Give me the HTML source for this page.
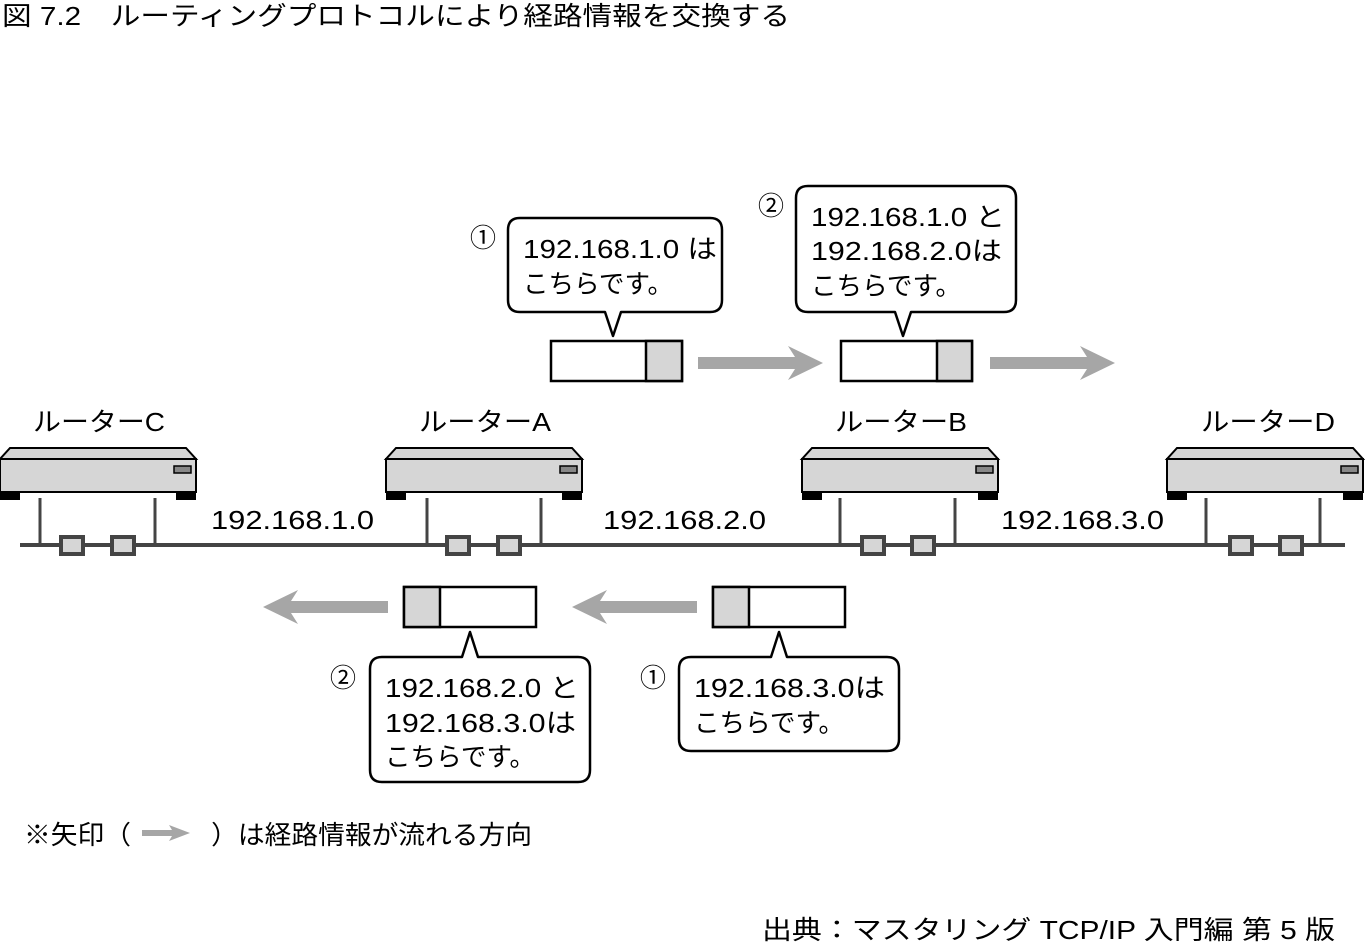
<!DOCTYPE html>
<html><head><meta charset="utf-8"><style>
body{margin:0;background:#fff;}
svg{display:block;}
text{font-family:"Liberation Sans","Noto Sans CJK JP",sans-serif;fill:#000;}
</style></head><body>
<svg width="1365" height="944" viewBox="0 0 1365 944" xmlns="http://www.w3.org/2000/svg">
<defs>
<g id="router">
  <polygon points="10,448 186,448 196,459 0,459" fill="#d6d6d6" stroke="#000" stroke-width="2"/>
  <rect x="0" y="459" width="196" height="33" fill="#d6d6d6" stroke="#000" stroke-width="2"/>
  <rect x="0" y="492" width="20" height="8" fill="#000"/>
  <rect x="176" y="492" width="20" height="8" fill="#000"/>
  <rect x="174" y="466" width="17" height="7" fill="#888" stroke="#000" stroke-width="1.5"/>
</g>
<g id="port"><rect x="0" y="0" width="22" height="17" fill="#d6d6d6" stroke="#444" stroke-width="4"/></g>
</defs>

<text x="2" y="25" font-size="26" textLength="788" lengthAdjust="spacingAndGlyphs">図 7.2　ルーティングプロトコルにより経路情報を交換する</text>

<rect x="20" y="543" width="1325" height="4" fill="#444"/>

<g stroke="#444" stroke-width="3">
<line x1="40" y1="498" x2="40" y2="545"/><line x1="155" y1="498" x2="155" y2="545"/>
<line x1="427" y1="498" x2="427" y2="545"/><line x1="541" y1="498" x2="541" y2="545"/>
<line x1="840" y1="498" x2="840" y2="545"/><line x1="955" y1="498" x2="955" y2="545"/>
<line x1="1206" y1="498" x2="1206" y2="545"/><line x1="1320" y1="498" x2="1320" y2="545"/>
</g>

<use href="#router" x="0"/>
<use href="#router" x="386"/>
<use href="#router" x="802"/>
<use href="#router" x="1167"/>

<use href="#port" x="61" y="537"/><use href="#port" x="112" y="537"/>
<use href="#port" x="447" y="537"/><use href="#port" x="498" y="537"/>
<use href="#port" x="862" y="537"/><use href="#port" x="912" y="537"/>
<use href="#port" x="1230" y="537"/><use href="#port" x="1280" y="537"/>

<g font-size="26" lengthAdjust="spacingAndGlyphs">
<text x="33" y="431" textLength="132" lengthAdjust="spacingAndGlyphs">ルーターC</text>
<text x="419" y="431" textLength="132" lengthAdjust="spacingAndGlyphs">ルーターA</text>
<text x="835" y="431" textLength="132" lengthAdjust="spacingAndGlyphs">ルーターB</text>
<text x="1201" y="431" textLength="134" lengthAdjust="spacingAndGlyphs">ルーターD</text>
<text x="211" y="529" textLength="163" lengthAdjust="spacingAndGlyphs">192.168.1.0</text>
<text x="603" y="529" textLength="163" lengthAdjust="spacingAndGlyphs">192.168.2.0</text>
<text x="1001" y="529" textLength="163" lengthAdjust="spacingAndGlyphs">192.168.3.0</text>
</g>

<rect x="551" y="341" width="131" height="40" fill="#fff" stroke="#000" stroke-width="2.5"/>
<rect x="646" y="341" width="36" height="40" fill="#d6d6d6" stroke="#000" stroke-width="2.5"/>
<rect x="841" y="341" width="131" height="40" fill="#fff" stroke="#000" stroke-width="2.5"/>
<rect x="937" y="341" width="35" height="40" fill="#d6d6d6" stroke="#000" stroke-width="2.5"/>
<rect x="404" y="587" width="132" height="40" fill="#fff" stroke="#000" stroke-width="2.5"/>
<rect x="404" y="587" width="36" height="40" fill="#d6d6d6" stroke="#000" stroke-width="2.5"/>
<rect x="713" y="587" width="132" height="40" fill="#fff" stroke="#000" stroke-width="2.5"/>
<rect x="713" y="587" width="36" height="40" fill="#d6d6d6" stroke="#000" stroke-width="2.5"/>

<g fill="#a6a6a6">
<polygon points="698,357 795,357 788,346 823,363 788,380 795,369 698,369"/>
<polygon points="990,357 1087,357 1080,346 1115,363 1080,380 1087,369 990,369"/>
<polygon points="388,601 291,601 298,590 263,607 298,624 291,613 388,613"/>
<polygon points="697,601 600,601 607,590 572,607 607,624 600,613 697,613"/>
</g>

<g fill="#fff" stroke="#000" stroke-width="2.5" stroke-linejoin="round">
<path d="M520,218 H710 Q722,218 722,230 V300 Q722,312 710,312 H621 L613,336 L605,312 H520 Q508,312 508,300 V230 Q508,218 520,218 Z"/>
<path d="M808,186 H1004 Q1016,186 1016,198 V300 Q1016,312 1004,312 H911 L903,336 L895,312 H808 Q796,312 796,300 V198 Q796,186 808,186 Z"/>
<path d="M382,657 H462 L470,632 L478,657 H578 Q590,657 590,669 V770 Q590,782 578,782 H382 Q370,782 370,770 V669 Q370,657 382,657 Z"/>
<path d="M691,657 H771 L779,632 L787,657 H887 Q899,657 899,669 V739 Q899,751 887,751 H691 Q679,751 679,739 V669 Q679,657 691,657 Z"/>
</g>

<g font-size="26">
<text x="470" y="247">①</text>
<text x="523" y="258" textLength="194" lengthAdjust="spacingAndGlyphs">192.168.1.0 は</text>
<text x="523" y="293" textLength="150" lengthAdjust="spacingAndGlyphs">こちらです。</text>
<text x="758" y="215">②</text>
<text x="811" y="226" textLength="194" lengthAdjust="spacingAndGlyphs">192.168.1.0 と</text>
<text x="811" y="260" textLength="191" lengthAdjust="spacingAndGlyphs">192.168.2.0は</text>
<text x="811" y="295" textLength="150" lengthAdjust="spacingAndGlyphs">こちらです。</text>
<text x="330" y="687">②</text>
<text x="385" y="697" textLength="194" lengthAdjust="spacingAndGlyphs">192.168.2.0 と</text>
<text x="385" y="732" textLength="191" lengthAdjust="spacingAndGlyphs">192.168.3.0は</text>
<text x="385" y="766" textLength="150" lengthAdjust="spacingAndGlyphs">こちらです。</text>
<text x="640" y="687">①</text>
<text x="694" y="697" textLength="191" lengthAdjust="spacingAndGlyphs">192.168.3.0は</text>
<text x="694" y="732" textLength="150" lengthAdjust="spacingAndGlyphs">こちらです。</text>
</g>

<text x="24" y="844" font-size="26" textLength="508" lengthAdjust="spacingAndGlyphs">※矢印（　　　）は経路情報が流れる方向</text>
<polygon points="142,830 172,830 169,825 190,833 169,841 172,836 142,836" fill="#a6a6a6"/>

<text x="762" y="939" font-size="26" textLength="573" lengthAdjust="spacingAndGlyphs">出典：マスタリング TCP/IP 入門編 第 5 版</text>
</svg>
</body></html>
